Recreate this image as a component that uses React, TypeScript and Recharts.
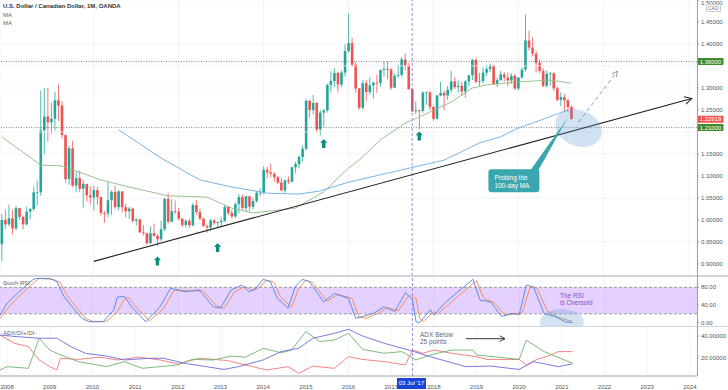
import React from 'react';
import {
  ComposedChart,
  Bar,
  Line,
  XAxis,
  YAxis,
  CartesianGrid,
  ReferenceLine,
  ReferenceArea,
  ReferenceDot,
} from 'recharts';

// monthly candles, first one is Nov 2007, axis runs on to Mar 2024
const FIRST_YEAR = 2007;
const FIRST_MONTH = 11;
const SLOTS = 197;
const FIRST_OPEN = 0.945;

const months = Array.from({ length: SLOTS }, (_, i) => {
  const t = FIRST_MONTH - 1 + i;
  return `${FIRST_YEAR + Math.floor(t / 12)}-${String((t % 12) + 1).padStart(2, '0')}`;
});
const yearTicks = months.filter((m) => m.endsWith('-01'));

const closes = [
  1.0, 0.99,
  1.004, 0.981, 1.027, 1.007, 0.99, 1.019, 1.025, 1.063, 1.063, 1.204, 1.235, 1.222,
  1.23, 1.272, 1.26, 1.193, 1.093, 1.163, 1.078, 1.095, 1.071, 1.082, 1.056, 1.051,
  1.068, 1.052, 1.016, 1.015, 1.045, 1.064, 1.029, 1.065, 1.029, 1.02, 1.026, 0.998,
  1.001, 0.972, 0.97, 0.947, 0.97, 0.964, 0.956, 0.979, 1.048, 0.996, 1.02, 1.019,
  1.003, 0.989, 0.998, 0.988, 1.034, 1.018, 1.003, 0.986, 0.983, 0.999, 0.993, 0.995,
  0.998, 1.03, 1.016, 1.008, 1.036, 1.052, 1.027, 1.054, 1.03, 1.043, 1.062, 1.062,
  1.114, 1.108, 1.105, 1.097, 1.085, 1.067, 1.09, 1.087, 1.12, 1.127, 1.143, 1.162,
  1.271, 1.25, 1.266, 1.206, 1.244, 1.249, 1.307, 1.316, 1.334, 1.308, 1.335, 1.384,
  1.402, 1.353, 1.299, 1.255, 1.311, 1.291, 1.306, 1.312, 1.311, 1.341, 1.343, 1.342,
  1.301, 1.328, 1.33, 1.365, 1.35, 1.297, 1.247, 1.249, 1.248, 1.29, 1.29, 1.257,
  1.23, 1.283, 1.289, 1.283, 1.296, 1.315, 1.302, 1.305, 1.292, 1.315, 1.329, 1.364,
  1.314, 1.316, 1.335, 1.343, 1.351, 1.309, 1.318, 1.331, 1.324, 1.317, 1.328, 1.299,
  1.324, 1.342, 1.408, 1.392, 1.378, 1.357, 1.339, 1.305, 1.332, 1.333, 1.299, 1.273,
  1.279, 1.272, 1.257, 1.22919,
];

const highs = [
  1.014, 1.024,
  1.035, 1.023, 1.032, 1.028, 1.01, 1.03, 1.027, 1.076, 1.089, 1.294, 1.3, 1.3,
  1.267, 1.292, 1.308, 1.27, 1.194, 1.17, 1.18, 1.11, 1.112, 1.092, 1.082, 1.077,
  1.078, 1.075, 1.053, 1.02, 1.086, 1.067, 1.078, 1.068, 1.065, 1.037, 1.03, 1.028,
  1.004, 1.003, 0.989, 0.971, 0.985, 0.992, 0.968, 0.998, 1.05, 1.062, 1.047, 1.044,
  1.027, 1.004, 1.002, 1.003, 1.039, 1.045, 1.026, 1.005, 0.99, 1.002, 1.003, 0.997,
  1.006, 1.034, 1.032, 1.023, 1.039, 1.059, 1.058, 1.055, 1.055, 1.05, 1.065, 1.072,
  1.122, 1.121, 1.128, 1.109, 1.1, 1.096, 1.092, 1.099, 1.121, 1.132, 1.147, 1.169,
  1.275, 1.273, 1.284, 1.268, 1.25, 1.253, 1.31, 1.338, 1.345, 1.337, 1.34, 1.399,
  1.469, 1.414, 1.36, 1.3, 1.318, 1.318, 1.325, 1.315, 1.33, 1.342, 1.36, 1.36,
  1.346, 1.333, 1.353, 1.37, 1.379, 1.357, 1.3, 1.27, 1.251, 1.292, 1.292, 1.294,
  1.26, 1.284, 1.314, 1.294, 1.305, 1.339, 1.325, 1.317, 1.314, 1.318, 1.33, 1.366,
  1.368, 1.335, 1.347, 1.352, 1.356, 1.353, 1.323, 1.339, 1.336, 1.335, 1.334, 1.332,
  1.324, 1.347, 1.467, 1.43, 1.415, 1.385, 1.365, 1.345, 1.34, 1.336, 1.336, 1.303,
  1.29, 1.287, 1.276, 1.26,
];

const lows = [
  0.906, 0.98,
  0.985, 0.968, 0.977, 1.0, 0.979, 0.988, 1.001, 1.02, 1.033, 1.055, 1.15, 1.178,
  1.196, 1.203, 1.225, 1.186, 1.085, 1.08, 1.075, 1.064, 1.063, 1.028, 1.042, 1.035,
  1.022, 1.034, 1.01, 0.994, 1.006, 1.012, 1.025, 1.022, 1.017, 1.006, 1.002, 0.993,
  0.987, 0.97, 0.965, 0.944, 0.947, 0.962, 0.941, 0.952, 0.975, 0.992, 0.995, 1.013,
  0.999, 0.984, 0.983, 0.982, 0.985, 1.012, 1.0, 0.985, 0.971, 0.976, 0.989, 0.982,
  0.984, 0.995, 1.011, 1.004, 1.005, 1.015, 1.024, 1.02, 1.02, 1.024, 1.039, 1.054,
  1.059, 1.095, 1.097, 1.087, 1.082, 1.067, 1.062, 1.082, 1.085, 1.107, 1.117, 1.133,
  1.158, 1.232, 1.24, 1.199, 1.192, 1.212, 1.244, 1.29, 1.302, 1.29, 1.302, 1.326,
  1.38, 1.348, 1.29, 1.25, 1.251, 1.27, 1.285, 1.276, 1.289, 1.303, 1.326, 1.32,
  1.296, 1.3, 1.323, 1.324, 1.34, 1.297, 1.245, 1.241, 1.206, 1.244, 1.262, 1.249,
  1.226, 1.229, 1.281, 1.25, 1.273, 1.29, 1.298, 1.289, 1.282, 1.278, 1.303, 1.318,
  1.311, 1.305, 1.31, 1.327, 1.336, 1.307, 1.302, 1.316, 1.314, 1.304, 1.309, 1.296,
  1.295, 1.321, 1.337, 1.385, 1.372, 1.335, 1.333, 1.302, 1.302, 1.305, 1.293, 1.27,
  1.259, 1.247, 1.245, 1.229,
];

// [month index, value]
const maSlow: [number, number][] = [
  [0, 1.189], [11, 1.125], [17, 1.123], [28, 1.091], [37, 1.073], [47, 1.055],
  [58, 1.052], [65, 1.027], [71, 1.016], [83, 1.027], [91, 1.064], [98, 1.118],
  [101, 1.136], [107, 1.182], [114, 1.22], [121, 1.245], [127, 1.268], [133, 1.3],
  [137, 1.307], [146, 1.314], [155, 1.318], [161, 1.311],
];
const maLong: [number, number][] = [
  [33, 1.205], [45, 1.141], [56, 1.091], [65, 1.075], [75, 1.061], [84, 1.059],
  [90, 1.066], [98, 1.086], [125, 1.136], [135, 1.175], [141, 1.189], [146, 1.209],
  [150, 1.22], [160, 1.25],
];
const stochK: [number, number][] = [
  [0, 17], [2, 44], [5, 67], [9, 96], [10, 100], [14, 100], [16, 93], [18, 59], [21, 29],
  [23, 10], [25, 2], [29, 2], [32, 29], [33, 58], [35, 59], [37, 36], [41, 2], [45, 36],
  [48, 78], [52, 70], [56, 74], [60, 36], [62, 33], [65, 74], [68, 85], [70, 70], [72, 78],
  [74, 98], [76, 93], [78, 55], [81, 33], [83, 81], [85, 98], [87, 93], [91, 47], [94, 66],
  [98, 55], [100, 10], [102, 14], [105, 21], [108, 36], [111, 25], [114, 68], [116, 51],
  [117, 2], [118, 0], [121, 29], [122, 17], [125, 44], [130, 78], [133, 98], [135, 51],
  [138, 47], [141, 14], [144, 21], [146, 18], [148, 85], [150, 81], [153, 21], [156, 14],
  [159, 2], [161, 0],
];
const stochD: [number, number][] = [
  [0, 10], [3, 40], [6, 65], [10, 94], [11, 100], [15, 98], [17, 90], [19, 60], [22, 30],
  [24, 10], [26, 3], [30, 3], [33, 25], [35, 53], [36, 58], [38, 38], [42, 4], [46, 32],
  [49, 74], [53, 72], [57, 72], [61, 38], [63, 32], [66, 70], [69, 82], [71, 72], [73, 80],
  [75, 96], [77, 92], [79, 57], [82, 35], [84, 78], [86, 96], [88, 90], [92, 48], [95, 64],
  [99, 55], [101, 12], [103, 10], [106, 20], [109, 34], [112, 27], [115, 62], [117, 55],
  [118, 10], [119, 3], [122, 25], [123, 20], [126, 40], [131, 75], [134, 95], [136, 55],
  [139, 45], [142, 17], [145, 20], [147, 25], [149, 80], [151, 78], [154, 25], [157, 12],
  [160, 5], [161, 3],
];
const adxVals: [number, number][] = [
  [0, 40.9], [5, 39.4], [11, 38], [16, 38], [20, 30.4], [24, 24.5], [30, 22], [35, 18.5],
  [42, 20], [46, 20], [52, 15.5], [58, 12.5], [63, 10], [67, 12.5], [74, 18.5], [79, 26],
  [84, 29], [88, 38], [94, 42.4], [98, 46], [102, 40], [108, 33.5], [115, 27.4],
  [121, 21.4], [131, 12.5], [138, 13], [146, 10], [150, 17], [157, 12.5], [161, 15],
];
const diPlus: [number, number][] = [
  [0, 9.5], [2, 12.5], [8, 11], [11, 38], [14, 27.4], [16, 24.5], [22, 17], [30, 12.5],
  [35, 17], [40, 11], [45, 12.5], [50, 14], [54, 19], [60, 18.5], [65, 22], [69, 21],
  [74, 29], [79, 25], [82, 27.4], [86, 44], [90, 35], [94, 36.4], [98, 42.4], [102, 28],
  [108, 24.5], [113, 26], [117, 18.5], [121, 23], [127, 27.4], [133, 27.4], [134, 23],
  [140, 21], [146, 19], [148, 36.4], [153, 26], [161, 15.5],
];
const diMinus: [number, number][] = [
  [0, 41], [4, 33.5], [8, 30.4], [11, 18.5], [14, 12.5], [16, 9.5], [17, 20], [22, 19],
  [28, 21], [33, 18.5], [39, 21], [45, 18.5], [50, 15], [56, 20], [64, 18], [69, 14],
  [75, 9.5], [81, 12.5], [84, 6.5], [88, 13], [94, 11], [98, 21.4], [102, 19], [108, 17],
  [114, 14], [116, 27.4], [119, 24.5], [122, 27.4], [127, 24.5], [134, 21.4], [137, 19],
  [146, 19], [148, 14], [151, 19], [155, 23], [157, 26], [161, 26],
];

// 1.20 and 1.35 sit under the level badges, so they are left out like on the original
const priceTicks = [0.9, 0.95, 1.0, 1.05, 1.1, 1.15, 1.25, 1.3, 1.4, 1.45, 1.5];
const gridPrices = [1.2, 1.35];
const LEVEL_HIGH = 1.36;
const LEVEL_LOW = 1.21;
const LAST_PRICE = 1.22919;
const MARK_MONTH = '2017-07';

const UP = '#26a69a';
const DOWN = '#ef5350';
const TEAL = '#3aa7ae';

const lookup = (pairs: [number, number][]) => {
  const map: Record<number, number> = {};
  pairs.forEach(([i, v]) => (map[i] = v));
  return map;
};
const gMap = lookup(maSlow);
const bMap = lookup(maLong);
const kMap = lookup(stochK);
const dMap = lookup(stochD);
const aMap = lookup(adxVals);
const pMap = lookup(diPlus);
const nMap = lookup(diMinus);

const rows = months.map((m, i) => {
  const has = i < closes.length;
  const o = i === 0 ? FIRST_OPEN : closes[i - 1];
  return {
    m,
    o: has ? o : null,
    h: has ? highs[i] : null,
    l: has ? lows[i] : null,
    c: has ? closes[i] : null,
    range: has ? [lows[i], highs[i]] : null,
    maG: gMap[i] ?? null,
    maB: bMap[i] ?? null,
    k: kMap[i] ?? null,
    d: dMap[i] ?? null,
    adx: aMap[i] ?? null,
    dip: pMap[i] ?? null,
    dim: nMap[i] ?? null,
  };
});

const Candle = (props: any) => {
  const { x, y, width, height, payload } = props;
  if (!payload || payload.h == null) return null;
  const { o, h, l, c } = payload;
  const ppu = Math.abs(height) / (h - l);
  const cx = x + width / 2;
  const top = y + (h - Math.max(o, c)) * ppu;
  const bot = y + (h - Math.min(o, c)) * ppu;
  const col = c >= o ? UP : DOWN;
  return (
    <g>
      <line x1={cx} x2={cx} y1={y} y2={y + Math.abs(height)} stroke={col} strokeWidth={0.8} />
      <rect x={cx - 1.3} y={top} width={2.6} height={Math.max(bot - top, 0.8)} fill={col} />
    </g>
  );
};

const arrowShape = (color: string, width: number, dash?: string, head = 7) => (p: any) => {
  const { x1, y1, x2, y2 } = p;
  const a = Math.atan2(y2 - y1, x2 - x1);
  const h1 = `${x2 - head * Math.cos(a - 0.5)},${y2 - head * Math.sin(a - 0.5)}`;
  const h2 = `${x2 - head * Math.cos(a + 0.5)},${y2 - head * Math.sin(a + 0.5)}`;
  return (
    <g>
      <line x1={x1} y1={y1} x2={x2} y2={y2} stroke={color} strokeWidth={width} strokeDasharray={dash} />
      <polyline points={`${h1} ${x2},${y2} ${h2}`} fill="none" stroke={color} strokeWidth={width} />
    </g>
  );
};

const UpArrow = ({ cx, cy }: any) => (
  <path
    d={`M${cx} ${cy - 4.5} L${cx + 3.6} ${cy - 0.6} L${cx + 1.7} ${cy - 0.6} L${cx + 1.7} ${cy + 4.5} L${cx - 1.7} ${cy + 4.5} L${cx - 1.7} ${cy - 0.6} L${cx - 3.6} ${cy - 0.6} Z`}
    fill="#0e8c7c"
  />
);

const Blob = (rx: number, ry: number, rot: number) => ({ cx, cy }: any) => (
  <ellipse cx={cx} cy={cy} rx={rx} ry={ry} transform={`rotate(${rot} ${cx} ${cy})`} fill="#5b9bd5" fillOpacity={0.28} />
);

const Callout = ({ cx, cy }: any) => (
  <g>
    <polygon points={`${cx - 41},${cy + 51} ${cx - 33},${cy + 51} ${cx - 4},${cy - 1}`} fill={TEAL} />
    <rect x={cx - 83} y={cy + 50} width={51} height={23} rx={3} fill={TEAL} />
    <text x={cx - 77} y={cy + 60.5} fill="#fff" fontSize={6.5}>Probing the</text>
    <text x={cx - 77} y={cy + 69} fill="#fff" fontSize={6.5}>100-day MA</text>
  </g>
);

const Badge = ({ viewBox, text, fill }: any) => {
  if (!viewBox) return null;
  const { x, y, width } = viewBox;
  return (
    <g>
      <rect x={x + width + 0.5} y={y - 3.5} width={26} height={7} fill={fill} rx={1} />
      <text x={x + width + 13.5} y={y + 2.1} fill="#fff" fontSize={6} textAnchor="middle">{text}</text>
    </g>
  );
};

const tickStyle = { fill: '#555', fontSize: 6 };
const gridColor = '#eef0f4';
const markLine = <ReferenceLine x={MARK_MONTH} stroke="#8076d4" strokeDasharray="3 2" strokeWidth={0.8} />;

const txt = (style: React.CSSProperties): React.CSSProperties => ({
  position: 'absolute',
  fontSize: 6.5,
  lineHeight: '7px',
  whiteSpace: 'nowrap',
  ...style,
});

export default function App() {
  return (
    <div
      style={{
        position: 'fixed',
        left: 0,
        top: 0,
        width: 728,
        height: 390,
        background: '#fff',
        overflow: 'hidden',
        fontFamily: '"Liberation Sans", Arial, sans-serif',
      }}
    >
      <div style={{ position: 'absolute', top: 0, left: 0 }}>
        <ComposedChart width={728} height={276} data={rows} margin={{ top: 0, right: 0, bottom: 0, left: 0 }}>
          <CartesianGrid stroke={gridColor} strokeWidth={0.8} />
          {gridPrices.map((p) => (
            <ReferenceLine key={p} y={p} stroke={gridColor} strokeWidth={0.8} />
          ))}
          <XAxis dataKey="m" ticks={yearTicks} hide />
          <YAxis
            orientation="right"
            width={31}
            domain={[0.8727, 1.5]}
            ticks={priceTicks}
            allowDataOverflow
            tick={tickStyle}
            tickSize={2}
            tickFormatter={(v: number) => v.toFixed(5)}
            axisLine={false}
            tickLine={{ stroke: '#999' }}
          />
          <ReferenceLine y={LEVEL_HIGH} stroke="#666" strokeDasharray="1 1.5" strokeWidth={0.8}
            label={<Badge text={LEVEL_HIGH.toFixed(5)} fill="#3f8a2c" />} />
          <ReferenceLine y={LEVEL_LOW} stroke="#666" strokeDasharray="1 1.5" strokeWidth={0.8}
            label={<Badge text={LEVEL_LOW.toFixed(5)} fill="#3f8a2c" />} />
          {markLine}
          <Line dataKey="maG" stroke="#8dbb82" strokeWidth={0.9} dot={false} activeDot={false} connectNulls isAnimationActive={false} />
          <Line dataKey="maB" stroke="#6aaee0" strokeWidth={0.9} dot={false} activeDot={false} connectNulls isAnimationActive={false} />
          <Bar dataKey="range" shape={<Candle />} isAnimationActive={false} />
          <ReferenceLine
            segment={[{ x: months[26], y: 0.906 }, { x: months[195], y: 1.276 }]}
            shape={arrowShape('#222', 1.1, undefined, 8)}
          />
          <ReferenceLine
            segment={[{ x: months[163], y: 1.222 }, { x: months[174], y: 1.338 }]}
            shape={arrowShape('#8a8f99', 0.9, '4 3', 6)}
          />
          <ReferenceDot x={months[163]} y={1.209} shape={Blob(24, 18, 22)} />
          <ReferenceDot x={months[161]} y={LAST_PRICE} shape={Callout} />
          <ReferenceDot x={months[44]} y={0.907} shape={UpArrow} />
          <ReferenceDot x={months[61]} y={0.9375} shape={UpArrow} />
          <ReferenceDot x={months[91]} y={1.174} shape={UpArrow} />
          <ReferenceDot x={months[118]} y={1.191} shape={UpArrow} />
          <ReferenceLine y={LAST_PRICE} stroke="none" label={<Badge text={LAST_PRICE.toFixed(5)} fill={DOWN} />} />
        </ComposedChart>
      </div>

      <div style={{ position: 'absolute', top: 277, left: 0 }}>
        <ComposedChart width={728} height={49} data={rows} margin={{ top: 0, right: 0, bottom: 0, left: 0 }}>
          <CartesianGrid stroke={gridColor} strokeWidth={0.8} horizontal={false} />
          <XAxis dataKey="m" ticks={yearTicks} hide />
          <YAxis
            orientation="right"
            width={31}
            domain={[-7.5, 103.3]}
            ticks={[0, 40, 80]}
            allowDataOverflow
            tick={tickStyle}
            tickSize={2}
            tickFormatter={(v: number) => v.toFixed(2)}
            axisLine={false}
            tickLine={{ stroke: '#999' }}
          />
          <ReferenceArea y1={20} y2={80} fill="#a259ff" fillOpacity={0.28} stroke="none" />
          <ReferenceLine y={80} stroke="#888" strokeDasharray="3 2" strokeWidth={0.8} />
          <ReferenceLine y={20} stroke="#888" strokeDasharray="3 2" strokeWidth={0.8} />
          {markLine}
          <Line dataKey="d" stroke="#f2884e" strokeWidth={0.9} dot={false} activeDot={false} connectNulls isAnimationActive={false} />
          <Line dataKey="k" stroke="#4d84ea" strokeWidth={0.9} dot={false} activeDot={false} connectNulls isAnimationActive={false} />
          <ReferenceDot x={months[158]} y={1.5} shape={Blob(22, 13, 0)} />
        </ComposedChart>
      </div>

      <div style={{ position: 'absolute', top: 327, left: 0 }}>
        <ComposedChart width={728} height={63} data={rows} margin={{ top: 0, right: 0, bottom: 0, left: 0 }}>
          <CartesianGrid stroke={gridColor} strokeWidth={0.8} horizontal={false} />
          <XAxis
            dataKey="m"
            ticks={yearTicks}
            interval={0}
            height={14}
            tick={tickStyle}
            tickLine={false}
            tickMargin={3}
            axisLine={{ stroke: '#a0a3ab' }}
            tickFormatter={(m: string) => m.slice(0, 4)}
          />
          <YAxis
            orientation="right"
            width={31}
            domain={[4.1, 48.1]}
            ticks={[20, 40]}
            allowDataOverflow
            tick={tickStyle}
            tickSize={2}
            tickFormatter={(v: number) => v.toFixed(5)}
            axisLine={false}
            tickLine={{ stroke: '#999' }}
          />
          {markLine}
          <Line dataKey="dim" stroke="#ee7676" strokeWidth={0.9} dot={false} activeDot={false} connectNulls isAnimationActive={false} />
          <Line dataKey="dip" stroke="#6db46a" strokeWidth={0.9} dot={false} activeDot={false} connectNulls isAnimationActive={false} />
          <Line dataKey="adx" stroke="#6b6be0" strokeWidth={0.9} dot={false} activeDot={false} connectNulls isAnimationActive={false} />
          <ReferenceLine
            segment={[{ x: months[131], y: 37.6 }, { x: months[142], y: 37.6 }]}
            shape={arrowShape('#222', 0.9, undefined, 6)}
          />
        </ComposedChart>
      </div>

      {/* pane separators and price scale border */}
      <div style={{ position: 'absolute', top: 275, left: 0, width: 728, height: 2, background: '#d1d4dc' }} />
      <div style={{ position: 'absolute', top: 325.5, left: 0, width: 728, height: 1.5, background: '#d1d4dc' }} />
      <div style={{ position: 'absolute', top: 0, left: 697, width: 1, height: 376, background: '#a0a3ab' }} />

      <div style={txt({ left: 3, top: 3, color: '#333', fontWeight: 700, fontSize: 6 })}>
        U.S. Dollar / Canadian Dollar, 1M, OANDA
      </div>
      <div style={txt({ left: 3, top: 12, color: '#666', fontSize: 6 })}>MA</div>
      <div style={txt({ left: 3, top: 20, color: '#666', fontSize: 6 })}>MA</div>
      <div
        style={txt({
          left: 706,
          top: 4,
          color: '#777',
          fontSize: 5,
          lineHeight: '6px',
          border: '0.5px solid #ccc',
          padding: '0 1px',
        })}
      >
        CAD
      </div>
      <div style={txt({ left: 3, top: 280, color: '#666', fontSize: 6 })}>Stoch RSI</div>
      <div style={txt({ left: 3, top: 330, color: '#666', fontSize: 6 })}>ADX/DI+/DI-</div>
      <div style={txt({ left: 560, top: 292, color: '#7b55b8' })}>The RSI</div>
      <div style={txt({ left: 560, top: 299, color: '#7b55b8' })}>is Oversold</div>
      <div style={txt({ left: 420, top: 330.5, color: '#5b6677' })}>ADX Below</div>
      <div style={txt({ left: 420, top: 337.5, color: '#5b6677' })}>25 points</div>
      <div
        style={txt({
          left: 397,
          top: 377.5,
          width: 29,
          height: 11,
          lineHeight: '11px',
          textAlign: 'center',
          background: '#1c44d6',
          color: '#fff',
          fontSize: 6,
        })}
      >
        03 Jul '17
      </div>
    </div>
  );
}
